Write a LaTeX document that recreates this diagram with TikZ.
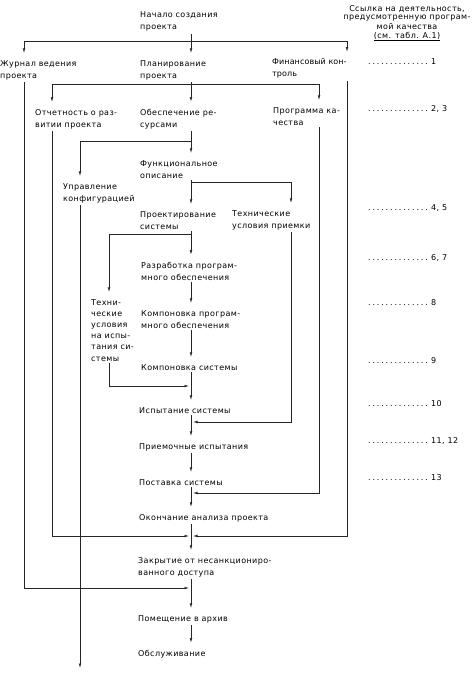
\documentclass[tikz,border=0pt]{standalone}
\usepackage{fontspec}
\setmainfont{DejaVu Sans}[LetterSpace=5]
\usetikzlibrary{arrows.meta}
\tikzset{
  txt/.style={anchor=base west, inner xsep=0pt, inner ysep=2pt, align=left, font=\fontsize{8}{12}\selectfont},
  ln/.style={line width=0.6pt, draw=black!85},
  arw/.style={ln, -{Latex[length=4.5pt,width=2.6pt]}},
  arwn/.style={arw, shorten >=5pt},
  arwj/.style={arw, shorten >=2pt}
}
\newcommand\refdots[1]{\hbox to 64pt{\leaders\hbox to 4.4pt{\hss.\hss}\hfill}#1}
\begin{document}
\begin{tikzpicture}[x=1pt,y=-1pt]
\useasboundingbox (0,0) rectangle (473,677);
\node[txt, anchor=base, align=center, font=\fontsize{8}{9}\selectfont] (head) at (407,38) {Ссылка на деятельность,\\предусмотренную програм-\\мой качества\\\underline{(см. табл. А.1)}};
\node[txt] (nach) at (140,30) {Начало создания\\проекта};
\node[txt] (zhur) at (0,78) {Журнал ведения\\проекта};
\node[txt] (plan) at (140,78) {Планирование\\проекта};
\node[txt, font=\fontsize{8}{12}\selectfont\addfontfeatures{LetterSpace=1}] (fin) at (272,77) {Финансовый кон-\\троль};
\node[txt] (otch) at (35,127) {Отчетность о раз-\\витии проекта};
\node[txt] (obes) at (140,127) {Обеспечение ре-\\сурсами};
\node[txt] (prog) at (273,125) {Программа ка-\\чества};
\node[txt] (func) at (140,178) {Функциональное\\описание};
\node[txt] (upr) at (63,201) {Управление\\конфигурацией};
\node[txt] (proek) at (140,229) {Проектирование\\системы};
\node[txt] (tup) at (232,228) {Технические\\условия приемки};
\node[txt] (razr) at (141,280) {Разработка програм-\\много обеспечения};
\node[txt, font=\fontsize{8}{11.2}\selectfont] (tui) at (91,361) {Техни-\\ческие\\условия\\на испы-\\тания си-\\стемы};
\node[txt] (kpo) at (141,328) {Компоновка програм-\\много обеспечения};
\node[txt] (ksys) at (141,370) {Компоновка системы};
\node[txt] (isp) at (139,413) {Испытание системы};
\node[txt] (prie) at (139,449) {Приемочные испытания};
\node[txt] (post) at (139,485) {Поставка системы};
\node[txt] (okon) at (139,520) {Окончание анализа проекта};
\node[txt] (zakr) at (138,575) {Закрытие от несанкциониро-\\ванного доступа};
\node[txt] (pome) at (138,621) {Помещение в архив};
\node[txt] (obsl) at (138,656) {Обслуживание};
\foreach \y/\n [count=\i] in {65/1, 111/{2, 3}, 210/{4, 5}, 260/{6, 7}, 305/8, 363/9, 406/10, 443/{11, 12}, 480/13}
  \node[txt] (r\i) at (367,\y) {\refdots{\n}};
\coordinate (m) at (191,0);
\coordinate (c1) at (24,41);
\coordinate (c2) at (347,41);
\coordinate (c3) at (52,84);
\coordinate (c4) at (319,84);
\coordinate (c5) at (80,141);
\coordinate (c6) at (291,182);
\coordinate (c7) at (109,234);
\coordinate (j1) at (191,386);
\coordinate (j2) at (191,422);
\coordinate (j3) at (191,493);
\coordinate (j4) at (191,536);
\coordinate (j5) at (191,588);
\coordinate (e1) at (80,668);
\draw[arwn] (nach.south -| m) -- (plan.north -| m);
\draw[ln] (c1) -- (c2);
\draw[arwn] (c1) -- (zhur.north -| c1);
\draw[arwn] (c2) -- (fin.north -| c2);
\draw[arwn] (plan.south -| m) -- (obes.north -| m);
\draw[ln] (c3) -- (c4);
\draw[arwn] (c3) -- (otch.north -| c3);
\draw[arwn] (c4) -- (prog.north -| c4);
\draw[arwn] (obes.south -| m) -- (func.north -| m);
\draw[ln] (c5) -- (c5 -| m);
\draw[arwn] (c5) -- (upr.north -| c5);
\draw[arw] (upr.south -| c5) -- (e1);
\draw[arwn] (func.south -| m) -- (proek.north -| m);
\draw[ln] (c6 -| m) -- (c6);
\draw[arwn] (c6) -- (tup.north -| c6);
\draw[arwn] (proek.south -| m) -- (razr.north -| m);
\draw[ln] (c7 -| m) -- (c7);
\draw[arwn] (c7) -- (tui.north -| c7);
\foreach \a/\b in {razr/kpo, kpo/ksys, ksys/isp, isp/prie, prie/post, post/okon, okon/zakr, zakr/pome, pome/obsl}
  \draw[arwn] (\a.south -| m) -- (\b.north -| m);
\draw[arwj] (tui.south -| c7) |- (j1);
\draw[arwj] (tup.south -| c6) |- (j2);
\draw[arwj] (prog.south -| c4) |- (j3);
\draw[arwj] (otch.south -| c3) |- (j4);
\draw[arwj] (fin.south -| c2) |- (j4);
\draw[arwj] (zhur.south -| c1) |- (j5);
\end{tikzpicture}
\end{document}
